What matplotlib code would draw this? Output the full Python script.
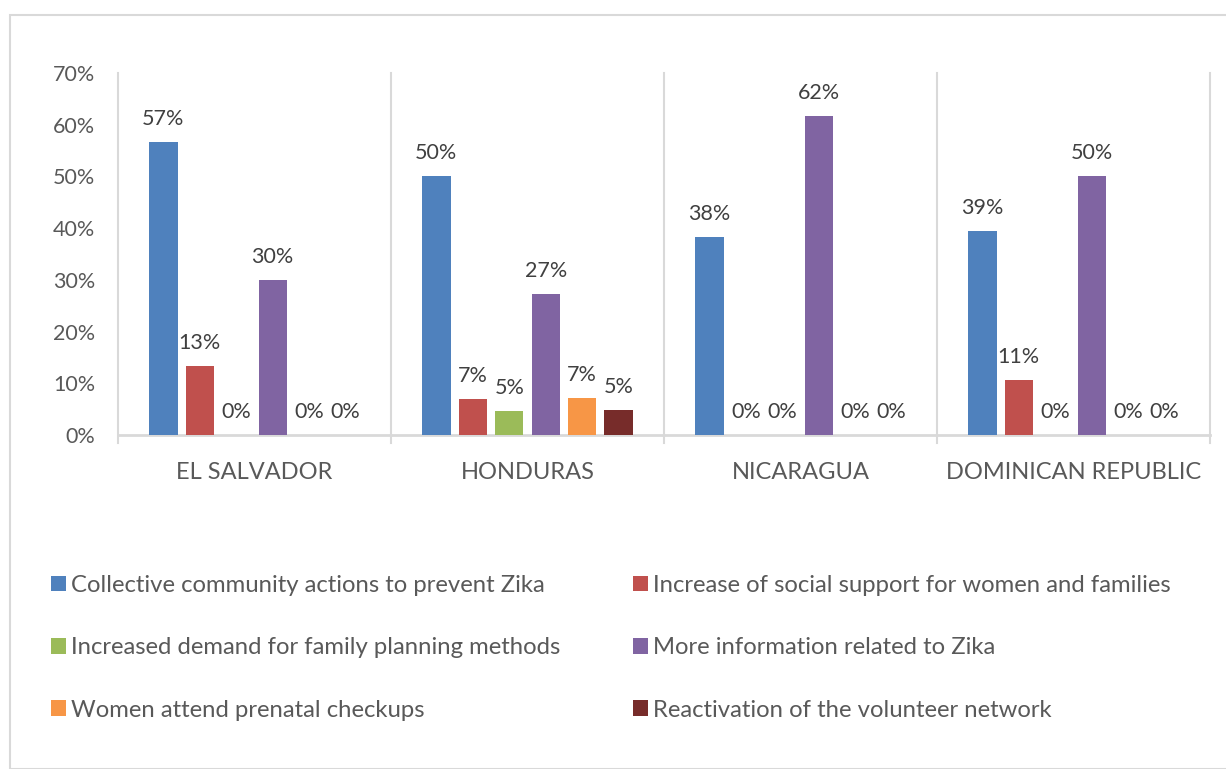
import matplotlib
matplotlib.use("Agg")
import matplotlib.pyplot as plt
import numpy as np
from matplotlib.patches import Rectangle, Patch

plt.rcParams['font.family'] = ['Lato', 'DejaVu Sans']

countries = ["EL SALVADOR", "HONDURAS", "NICARAGUA", "DOMINICAN REPUBLIC"]
series_names = [
    "Collective community actions to prevent Zika",
    "Increase of social support for women and families",
    "Increased demand for family planning methods",
    "More information related to Zika",
    "Women attend prenatal checkups",
    "Reactivation of the volunteer network",
]
collective = [0.567, 0.501, 0.383, 0.394]
social_support = [0.133, 0.070, 0.0, 0.106]
family_planning = [0.0, 0.046, 0.0, 0.0]
more_info = [0.300, 0.273, 0.617, 0.501]
prenatal = [0.0, 0.072, 0.0, 0.0]
volunteer = [0.0, 0.048, 0.0, 0.0]
series_values = [collective, social_support, family_planning, more_info, prenatal, volunteer]
colors = ["#4F81BD", "#C0504D", "#9BBB59", "#8064A2", "#F79646", "#772C2A"]
yticks = [0, 0.1, 0.2, 0.3, 0.4, 0.5, 0.6, 0.7]
ytick_labels = ["0%", "10%", "20%", "30%", "40%", "50%", "60%", "70%"]

W, H = 1226, 769
fig = plt.figure(figsize=(W / 100, H / 100), dpi=100)

# chart frame
fig.patches.append(Rectangle((10 / W, 0), 1.2, (H - 15) / H, transform=fig.transFigure,
                             fill=False, edgecolor="#D9D9D9", linewidth=1.5))

ax = fig.add_axes([118 / W, (H - 435) / H, (1210 - 118) / W, (435 - 73) / H])
ax.set_xlim(-0.5, 3.5)
ax.set_ylim(0, 0.70)

text_col = "#595959"
x = np.arange(len(countries))
pitch = 0.1335
bw = 0.104
for i, (vals, c) in enumerate(zip(series_values, colors)):
    pos = x + (i - 2.5) * pitch
    ax.bar(pos, vals, width=bw, color=c, zorder=3)
    for p, v in zip(pos, vals):
        ax.annotate(f"{round(v * 100):.0f}%", (p, v), xytext=(0, 9.5), textcoords="offset points",
                    ha="center", va="bottom", fontsize=15.5, color="#404040")

for s in ax.spines.values():
    s.set_visible(False)
ax.axhline(0, color="#D9D9D9", linewidth=2, zorder=2, clip_on=False)
for sep in [-0.5, 0.5, 1.5, 2.5, 3.5]:
    ax.plot([sep, sep], [-0.016, 0.70], color="#D9D9D9", linewidth=1.5, clip_on=False, zorder=1)

ax.set_yticks(yticks)
ax.set_yticklabels(ytick_labels, fontsize=15.5, color=text_col)
ax.tick_params(axis="y", length=0, pad=16.5)
ax.set_xticks(x)
ax.set_xticklabels(countries, fontsize=17, color=text_col)
ax.tick_params(axis="x", length=0, pad=19.5)

handles = [Patch(facecolor=c, edgecolor="none") for c in colors]
leg_kw = dict(frameon=False, fontsize=17.2, handlelength=0.63, handleheight=0.63,
              handletextpad=0.22, labelspacing=1.73, labelcolor=text_col,
              loc="upper left", borderaxespad=0, borderpad=0)
l1 = fig.legend([handles[0], handles[2], handles[4]],
                [series_names[0], series_names[2], series_names[4]],
                bbox_to_anchor=(51 / W, (H - 575) / H), **leg_kw)
l2 = fig.legend([handles[1], handles[3], handles[5]],
                [series_names[1], series_names[3], series_names[5]],
                bbox_to_anchor=(633 / W, (H - 575) / H), **leg_kw)

fig.savefig("out.png", dpi=100)
